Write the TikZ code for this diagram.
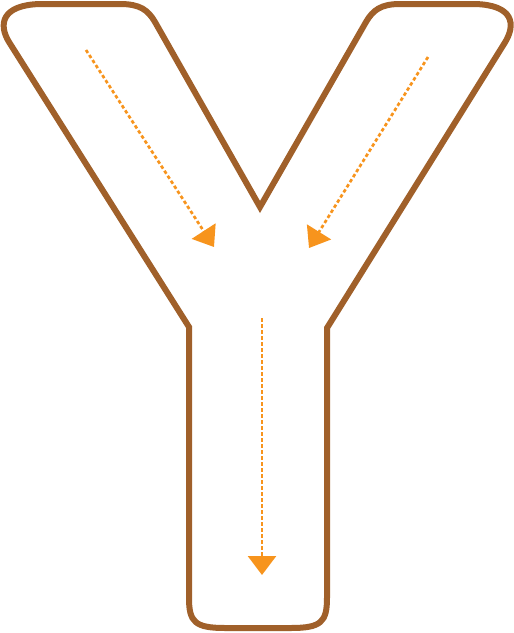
\documentclass[tikz,border=0pt]{standalone}
\usetikzlibrary{arrows.meta}
\definecolor{ybrown}{HTML}{A0602A}
\definecolor{yorange}{HTML}{F7941D}
\begin{document}
\begin{tikzpicture}[x=1pt,y=-1pt,
  outline/.style={draw=ybrown,line width=6pt,line join=miter},
  flow/.style={draw=yorange,line width=2.7pt,dash pattern=on 3.5pt off 2.5pt,
    -{Triangle[length=19pt,width=28pt]}}]
\useasboundingbox (0,0) rectangle (514,633);
% outline of the Y
\draw[outline]
  (189,327) -- (9,42) .. controls (-2,24) and (2,5) .. (40,4)
  -- (120,4) .. controls (140,4) and (148,10) .. (155,22)
  -- (260,207)
  -- (366,22) .. controls (373,10) and (381,4) .. (400,4)
  -- (475,4) .. controls (513,5) and (517,24) .. (504,44)
  -- (327,328)
  -- (327,598) .. controls (327,622) and (321,628) .. (291,628)
  -- (225,628) .. controls (195,628) and (189,622) .. (189,598)
  -- cycle;
% flow arrows
\coordinate (ls) at (86,50);
\coordinate (lt) at (214,247);
\coordinate (rs) at (428,57);
\coordinate (rt) at (309,248);
\coordinate (bs) at (262,318);
\coordinate (bt) at (262,575);
\draw[flow] (ls) -- (lt);
\draw[flow] (rs) -- (rt);
\draw[flow] (bs) -- (bt);
\end{tikzpicture}
\end{document}
